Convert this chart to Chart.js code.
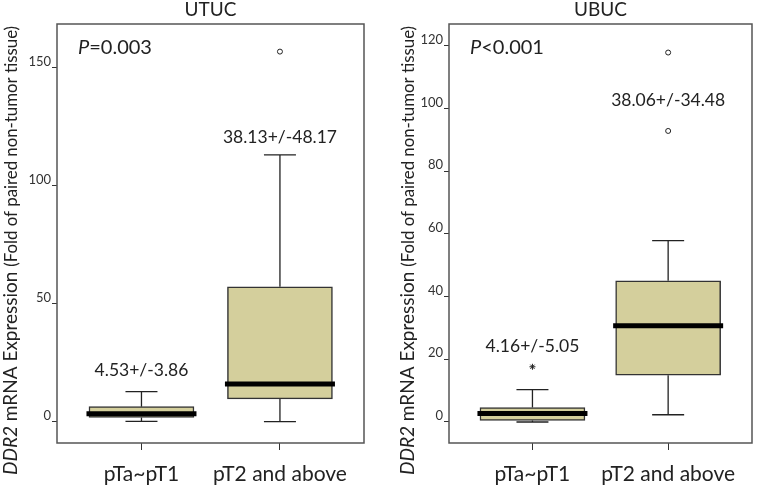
<!DOCTYPE html>
<html>
<head>
<meta charset="utf-8">
<script src="https://cdn.jsdelivr.net/npm/chart.js@4.4.0/dist/chart.umd.min.js"></script>
<style>
  html, body { margin: 0; padding: 0; background: #fff; }
  #wrap { position: relative; width: 757px; height: 486px; }
  canvas { position: absolute; top: 0; }
</style>
</head>
<body>
<div id="wrap">
  <canvas id="utuc" width="378" height="486" style="left:0"></canvas>
  <canvas id="ubuc" width="379" height="486" style="left:378px"></canvas>
</div>
<script>
const categories = ['pTa~pT1', 'pT2 and above'];

// UTUC panel
const utucLow = [0.2, 0.1];
const utucQ1 = [1.8, 9.7];
const utucMedian = [3.4, 16.0];
const utucQ3 = [6.4, 57.2];
const utucHigh = [12.8, 113.1];
const utucOutliers = [[], [156.9]];
const utucExtremes = [[], []];
const utucMeanSd = ['4.53+/-3.86', '38.13+/-48.17'];
const utucTicks = [0, 50, 100, 150];

// UBUC panel
const ubucLow = [0, 2.3];
const ubucQ1 = [0.5, 14.9];
const ubucMedian = [2.7, 30.7];
const ubucQ3 = [4.6, 45.0];
const ubucHigh = [10.3, 57.8];
const ubucOutliers = [[], [92.8, 117.8]];
const ubucExtremes = [[17.6], []];
const ubucMeanSd = ['4.16+/-5.05', '38.06+/-34.48'];
const ubucTicks = [0, 20, 40, 60, 80, 100, 120];

const FONT = 'Lato';
Chart.defaults.font.family = FONT;

const panels = {
    utuc: {
        title: 'UTUC', pSign: '=0.003',
        low: utucLow, q1: utucQ1, median: utucMedian, q3: utucQ3, high: utucHigh,
        outliers: utucOutliers, extremes: utucExtremes, meanSd: utucMeanSd, ticks: utucTicks,
        yMin: -9, yMax: 168.6, xMin: 0.39, xMax: 2.607,
        axisWidth: 57, padRight: 14, noteY: [19.5, 118.2], titleOffset: 40
    },
    ubuc: {
        title: 'UBUC', pSign: '<0.001',
        low: ubucLow, q1: ubucQ1, median: ubucMedian, q3: ubucQ3, high: ubucHigh,
        outliers: ubucOutliers, extremes: ubucExtremes, meanSd: ubucMeanSd, ticks: ubucTicks,
        yMin: -6.7, yMax: 126.9, xMin: 0.385, xMax: 2.618,
        axisWidth: 71, padRight: 1, noteY: [22.4, 100.8], titleOffset: 35
    }
};

// whiskers, medians, frame and the text bits that Chart.js can't lay out
const boxParts = {
    id: 'boxParts',
    beforeDatasetsDraw(chart) {
        const p = panels[chart.canvas.id];
        const { ctx, scales: { x, y } } = chart;
        ctx.save();
        ctx.strokeStyle = '#222';
        ctx.lineWidth = 1.3;
        p.low.forEach((lo, i) => {
            const cx = x.getPixelForValue(i + 1);
            const yHi = y.getPixelForValue(p.high[i]);
            const yLo = y.getPixelForValue(lo);
            ctx.beginPath();
            ctx.moveTo(cx, y.getPixelForValue(p.q3[i])); ctx.lineTo(cx, yHi);
            ctx.moveTo(cx - 16, yHi); ctx.lineTo(cx + 16, yHi);
            ctx.moveTo(cx, y.getPixelForValue(p.q1[i])); ctx.lineTo(cx, yLo);
            ctx.moveTo(cx - 16, yLo); ctx.lineTo(cx + 16, yLo);
            ctx.stroke();
        });
        ctx.restore();
    },
    afterDatasetsDraw(chart) {
        const p = panels[chart.canvas.id];
        const { ctx, scales: { x, y } } = chart;
        ctx.save();
        ctx.strokeStyle = '#000';
        ctx.lineWidth = 5;
        p.median.forEach((m, i) => {
            const cx = x.getPixelForValue(i + 1);
            const my = y.getPixelForValue(m);
            ctx.beginPath();
            ctx.moveTo(cx - 55, my); ctx.lineTo(cx + 55, my);
            ctx.stroke();
        });
        ctx.restore();
    },
    afterDraw(chart) {
        const p = panels[chart.canvas.id];
        const { ctx, chartArea: a, scales: { x, y } } = chart;
        ctx.save();
        // frame
        ctx.strokeStyle = '#555';
        ctx.lineWidth = 1.5;
        ctx.strokeRect(a.left, a.top, a.right - a.left, a.bottom - a.top);

        ctx.fillStyle = '#222';
        ctx.textBaseline = 'alphabetic';
        // P value
        ctx.textAlign = 'left';
        ctx.font = 'italic 20px ' + FONT;
        ctx.fillText('P', a.left + 21, a.top + 30);
        const pw = ctx.measureText('P').width;
        ctx.font = '20px ' + FONT;
        ctx.fillText(p.pSign, a.left + 21 + pw, a.top + 30);

        // mean +/- sd notes
        ctx.textAlign = 'center';
        ctx.font = '17.5px ' + FONT;
        p.meanSd.forEach((t, i) => {
            ctx.fillText(t, x.getPixelForValue(i + 1), y.getPixelForValue(p.noteY[i]));
        });

        // rotated y title with mixed fonts
        ctx.translate(a.left - p.titleOffset, 475);
        ctx.rotate(-Math.PI / 2);
        ctx.textAlign = 'left';
        let pos = 0;
        const parts = [
            ['italic 19px ' + FONT, 'DDR2'],
            ['19px ' + FONT, ' mRNA Expression '],
            ['16.8px ' + FONT, '(Fold of paired non-tumor tissue)']
        ];
        parts.forEach(([f, t]) => {
            ctx.font = f;
            ctx.fillText(t, pos, 0);
            pos += ctx.measureText(t).width;
        });
        ctx.restore();
    }
};

const makePanel = (id) => {
    const p = panels[id];
    const boxes = categories.map((c, i) => ({ x: i + 1, y: [p.q1[i], p.q3[i]] }));
    const outlierPts = [];
    p.outliers.forEach((list, i) => list.forEach(v => outlierPts.push({ x: i + 1, y: v })));
    const extremePts = [];
    p.extremes.forEach((list, i) => list.forEach(v => extremePts.push({ x: i + 1, y: v })));

    return new Chart(document.getElementById(id), {
        type: 'bar',
        data: {
            datasets: [
                {
                    type: 'bar',
                    data: boxes,
                    backgroundColor: '#d4cf9c',
                    borderColor: '#333',
                    borderWidth: 1.5,
                    borderSkipped: false,
                    barThickness: 105
                },
                {
                    type: 'scatter',
                    data: outlierPts,
                    pointStyle: 'circle',
                    radius: 2.5,
                    borderWidth: 1,
                    borderColor: '#222',
                    backgroundColor: '#fff'
                },
                {
                    type: 'scatter',
                    data: extremePts,
                    pointStyle: 'star',
                    radius: 3,
                    borderWidth: 1,
                    borderColor: '#222'
                }
            ]
        },
        options: {
            responsive: false,
            animation: false,
            devicePixelRatio: 1,
            layout: { padding: { left: 0, right: p.padRight, top: 0, bottom: 0 } },
            plugins: {
                legend: { display: false },
                tooltip: { enabled: false },
                title: {
                    display: true,
                    text: p.title,
                    fullSize: false,
                    color: '#222',
                    font: { size: 19, weight: 'normal', lineHeight: 1.0 },
                    padding: { top: 0, bottom: 5 }
                }
            },
            scales: {
                x: {
                    type: 'linear',
                    min: p.xMin,
                    max: p.xMax,
                    offset: false,
                    afterBuildTicks: s => { s.ticks = categories.map((c, i) => ({ value: i + 1 })); },
                    afterFit: s => { s.height = 43; },
                    grid: { offset: false, drawOnChartArea: false, tickLength: 7, color: '#333' },
                    border: { display: false },
                    ticks: {
                        padding: 12,
                        color: '#222',
                        maxRotation: 0,
                        autoSkip: false,
                        font: { size: 21 },
                        callback: (v, i) => categories[i]
                    }
                },
                y: {
                    type: 'linear',
                    min: p.yMin,
                    max: p.yMax,
                    afterBuildTicks: s => { s.ticks = p.ticks.map(v => ({ value: v })); },
                    afterFit: s => { s.width = p.axisWidth; },
                    grid: { drawOnChartArea: false, tickLength: 5, color: '#333' },
                    border: { display: false },
                    ticks: { padding: 1, labelOffset: -6, color: '#333', font: { size: 13 } }
                }
            }
        },
        plugins: [boxParts]
    });
};

document.fonts.load('20px ' + FONT).then(() => {
    makePanel('utuc');
    makePanel('ubuc');
});
</script>
</body>
</html>
